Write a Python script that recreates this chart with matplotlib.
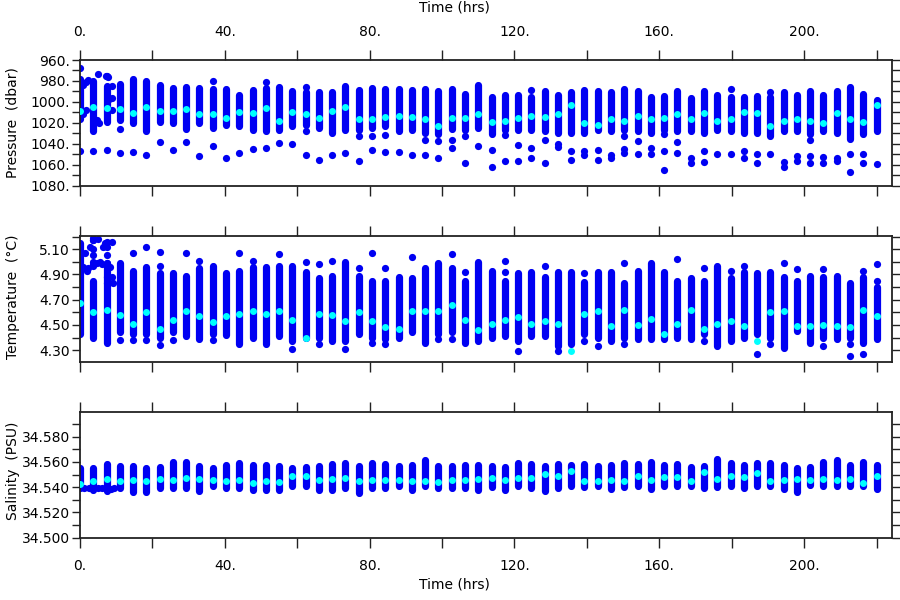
import numpy as np
import matplotlib
matplotlib.use("Agg")
import matplotlib.pyplot as plt

# time of each CTD cast (hrs)
times = [0.0, 3.67, 7.33, 11.0, 14.67, 18.33, 22.0, 25.67, 29.33, 33.0,
         36.67, 40.33, 44.0, 47.67, 51.33, 55.0, 58.67, 62.33, 66.0, 69.67,
         73.33, 77.0, 80.67, 84.33, 88.0, 91.67, 95.33, 99.0, 102.67, 106.33,
         110.0, 113.67, 117.33, 121.0, 124.67, 128.33, 132.0, 135.67, 139.33, 143.0,
         146.67, 150.33, 154.0, 157.67, 161.33, 165.0, 168.67, 172.33, 176.0, 179.67,
         183.33, 187.0, 190.67, 194.33, 198.0, 201.67, 205.33, 209.0, 212.67, 216.33,
         220.0]

# pressure (dbar): range of each cast, cast mean, isolated samples
pres_top = [978, 980, 985, 983, 978, 980, 984, 987, 986, 987,
            988, 988, 993, 989, 987, 986, 990, 991, 991, 991,
            985, 989, 987, 988, 988, 989, 988, 990, 988, 992,
            984, 995, 993, 993, 995, 990, 993, 991, 989, 990,
            991, 988, 990, 995, 994, 990, 996, 990, 993, 995,
            995, 994, 995, 991, 993, 990, 993, 990, 986, 992,
            998]
pres_bot = [1016, 1028, 1019, 1017, 1020, 1028, 1019, 1020, 1026, 1020,
            1025, 1022, 1023, 1027, 1028, 1027, 1023, 1022, 1025, 1030,
            1027, 1027, 1025, 1023, 1028, 1027, 1030, 1031, 1026, 1027,
            1025, 1031, 1027, 1027, 1027, 1028, 1030, 1030, 1030, 1027,
            1028, 1027, 1028, 1030, 1027, 1028, 1028, 1030, 1027, 1028,
            1030, 1030, 1033, 1028, 1028, 1031, 1028, 1030, 1035, 1031,
            1028]
pres_mean = [1009, 1005, 1006, 1007, 1011, 1005, 1009, 1009, 1007, 1012,
             1012, 1015, 1010, 1011, 1006, 1018, 1010, 1012, 1015, 1009,
             1005, 1016, 1016, 1014, 1013, 1014, 1016, 1023, 1015, 1015,
             1012, 1019, 1018, 1015, 1013, 1014, 1012, 1003, 1020, 1022,
             1016, 1018, 1013, 1016, 1015, 1012, 1016, 1011, 1018, 1016,
             1010, 1011, 1023, 1018, 1016, 1018, 1020, 1011, 1016, 1019,
             1003]
pres_out = [[968, 1047], [1047], [975, 1046], [1026, 1049], [1048],
            [1051], [1038], [1046], [1038], [1052],
            [980, 1042], [1054], [1049], [1045], [981, 1044],
            [1039], [1040], [986, 1028, 1051], [1055], [1051],
            [1049], [1033, 1056], [1033, 1046], [1032, 1048], [1048],
            [1051], [1036, 1051], [1037, 1054], [1036, 1044], [1033, 1058],
            [1042], [1046, 1062], [1032, 1056], [1041, 1056], [989, 1044, 1054],
            [1036, 1058], [1040, 1043], [1047, 1055], [1047, 1051], [1046, 1055],
            [1051, 1054], [1033, 1045, 1049], [1037, 1050], [1044, 1050], [1031, 1047, 1065],
            [1038, 1049], [1054, 1058], [1047, 1057], [1050], [988, 1050],
            [1047, 1054], [1050, 1058], [991, 1050], [1057, 1062], [1052, 1056],
            [1036, 1052, 1058], [1053, 1058], [1054, 1056], [1050, 1067], [1050, 1058],
            [1059]]
# first hours: instrument still settling
pres_early_t = [2.3, 5.06, 7.1, 7.7, 8.9, 0.92, 1.66, 4.6, 5.2, 7.7, 8.9, 8.9, 0.92, 1.7]
pres_early_p = [979, 973, 975, 976, 985, 1012, 1008, 1017, 1020, 998, 996, 1008, 984, 981]

# temperature (degC)
temp_top = [5.15, 4.85, 4.99, 4.99, 4.93, 4.96, 4.91, 4.91, 4.89, 4.95,
            4.97, 4.91, 4.93, 4.96, 4.96, 4.97, 4.97, 4.92, 4.87, 4.89,
            5.00, 4.89, 4.85, 4.85, 4.88, 4.87, 4.95, 4.99, 4.95, 4.85,
            5.00, 4.93, 4.85, 4.91, 4.92, 4.88, 4.92, 4.92, 4.84, 4.92,
            4.92, 4.83, 4.93, 4.99, 4.92, 4.85, 4.87, 4.85, 4.97, 4.87,
            4.92, 4.91, 4.92, 4.88, 4.85, 4.89, 4.88, 4.89, 4.83, 4.88,
            4.80]
temp_bot = [4.43, 4.40, 4.36, 4.44, 4.43, 4.43, 4.40, 4.44, 4.41, 4.39,
            4.43, 4.42, 4.35, 4.40, 4.35, 4.41, 4.37, 4.40, 4.40, 4.37,
            4.37, 4.43, 4.40, 4.39, 4.40, 4.44, 4.36, 4.43, 4.44, 4.36,
            4.37, 4.40, 4.41, 4.37, 4.41, 4.41, 4.33, 4.35, 4.43, 4.40,
            4.37, 4.40, 4.39, 4.39, 4.39, 4.40, 4.39, 4.43, 4.33, 4.37,
            4.40, 4.43, 4.40, 4.32, 4.45, 4.36, 4.40, 4.39, 4.40, 4.36,
            4.39]
temp_mean = [4.67, 4.60, 4.62, 4.58, 4.51, 4.60, 4.47, 4.54, 4.61, 4.57,
             4.52, 4.57, 4.59, 4.61, 4.59, 4.61, 4.54, 4.40, 4.59, 4.58,
             4.53, 4.60, 4.53, 4.48, 4.47, 4.61, 4.61, 4.61, 4.66, 4.54,
             4.46, 4.51, 4.54, 4.56, 4.51, 4.53, 4.51, 4.29, 4.59, 4.61,
             4.49, 4.62, 4.50, 4.55, 4.43, 4.51, 4.62, 4.47, 4.51, 4.53,
             4.49, 4.37, 4.60, 4.61, 4.49, 4.49, 4.50, 4.49, 4.48, 4.62,
             4.57]
temp_out = [[], [5.19, 5.175, 5.10, 5.05, 5.00, 4.98], [5.16, 5.12, 5.05, 4.88, 4.83], [4.38], [5.07, 4.38],
            [5.12, 4.38], [5.08, 4.97, 4.34], [4.38], [5.07], [5.01],
            [4.38], [], [5.07], [5.01], [],
            [5.06], [4.31], [5.00], [4.98, 4.35], [5.01],
            [4.31], [4.95], [5.07, 4.36], [4.95, 4.35], [],
            [5.04], [], [4.39], [5.06, 4.39], [4.92],
            [], [], [5.01, 4.92], [4.29], [],
            [4.97], [4.29], [], [4.91, 4.37], [4.33],
            [], [4.99, 4.35], [], [], [],
            [5.02], [], [4.95, 4.37], [], [4.93],
            [4.97], [4.27], [4.35], [4.99], [4.94],
            [], [4.94, 4.33], [], [4.35, 4.25], [4.93, 4.27],
            [4.98, 4.85]]
temp_early_t = [1.38, 2.76, 3.68, 5.06, 6.44, 7.0, 8.75, 0.92, 1.84, 3.68,
                5.52, 7.36, 8.29, 8.75, 9.2, 2.3, 4.6, 6.2]
temp_early_v = [5.07, 5.12, 5.175, 5.18, 5.12, 5.15, 5.16, 4.96, 4.93, 4.97,
                5.00, 4.99, 4.96, 4.88, 4.83, 4.95, 4.99, 4.98]

# salinity (PSU)
sal_top = [34.5553, 34.5553, 34.5580, 34.5566, 34.5566, 34.5553, 34.5561, 34.5601, 34.5601, 34.5566,
           34.5553, 34.5572, 34.5588, 34.5572, 34.5572, 34.5566, 34.5553, 34.5559, 34.5566, 34.5580,
           34.5588, 34.5566, 34.5588, 34.5580, 34.5566, 34.5572, 34.5612, 34.5566, 34.5566, 34.5572,
           34.5574, 34.5566, 34.5559, 34.5593, 34.5585, 34.5566, 34.5580, 34.5572, 34.5580, 34.5566,
           34.5572, 34.5593, 34.5585, 34.5601, 34.5572, 34.5580, 34.5561, 34.5566, 34.5620, 34.5588,
           34.5574, 34.5588, 34.5588, 34.5572, 34.5553, 34.5561, 34.5601, 34.5612, 34.5574, 34.5601,
           34.5572]
sal_bot = [34.5407, 34.5380, 34.5367, 34.5394, 34.5362, 34.5362, 34.5394, 34.5394, 34.5394, 34.5372,
           34.5407, 34.5394, 34.5394, 34.5380, 34.5380, 34.5380, 34.5407, 34.5407, 34.5380, 34.5380,
           34.5394, 34.5354, 34.5394, 34.5394, 34.5412, 34.5380, 34.5407, 34.5394, 34.5394, 34.5394,
           34.5380, 34.5399, 34.5380, 34.5407, 34.5394, 34.5367, 34.5394, 34.5407, 34.5399, 34.5407,
           34.5388, 34.5399, 34.5407, 34.5388, 34.5407, 34.5407, 34.5407, 34.5394, 34.5399, 34.5407,
           34.5394, 34.5407, 34.5407, 34.5388, 34.5362, 34.5420, 34.5407, 34.5407, 34.5407, 34.5407,
           34.5388]
sal_mean = [34.5426, 34.5452, 34.5468, 34.5452, 34.5455, 34.5447, 34.5468, 34.5460, 34.5473, 34.5465,
            34.5460, 34.5447, 34.5460, 34.5434, 34.5452, 34.5441, 34.5492, 34.5487, 34.5460, 34.5468,
            34.5473, 34.5452, 34.5460, 34.5460, 34.5455, 34.5447, 34.5452, 34.5439, 34.5460, 34.5460,
            34.5468, 34.5473, 34.5460, 34.5473, 34.5473, 34.5505, 34.5487, 34.5532, 34.5452, 34.5447,
            34.5460, 34.5447, 34.5492, 34.5460, 34.5479, 34.5479, 34.5447, 34.5521, 34.5468, 34.5487,
            34.5481, 34.5513, 34.5447, 34.5455, 34.5468, 34.5460, 34.5468, 34.5460, 34.5465, 34.5434,
            34.5487]
sal_early_t = [0.0, 1.2, 2.4, 3.7, 4.9, 6.1, 7.3, 8.0, 8.5, 9.3]
sal_early_s = [34.5395, 34.5392, 34.5392, 34.5392, 34.5392, 34.5392, 34.5390, 34.5382, 34.5388, 34.5395]

BLUE = "#0000f2"
CYAN = "#00ffff"

fig = plt.figure(figsize=(9, 6), dpi=100)
ax_p = fig.add_axes([0.0889, 0.6905, 0.9019, 0.2095])
ax_t = fig.add_axes([0.0889, 0.3962, 0.9019, 0.2110])
ax_s = fig.add_axes([0.0889, 0.1038, 0.9019, 0.2090])


def draw_panel(ax, top, bot, mean, outs, early_t, early_v):
    ax.vlines(times, bot, top, colors=BLUE, linewidth=5.2, capstyle="round", zorder=2)
    ox, oy = [], []
    for t, vals in zip(times, outs):
        for v in vals:
            ox.append(t)
            oy.append(v)
    ax.plot(ox, oy, "o", color=BLUE, ms=5.2, mew=0, zorder=2)
    ax.plot(early_t, early_v, "o", color=BLUE, ms=5.2, mew=0, zorder=2)
    ax.plot(times, mean, "o", color=CYAN, ms=5.0, mew=0, zorder=3)


draw_panel(ax_p, pres_top, pres_bot, pres_mean, pres_out, pres_early_t, pres_early_p)
draw_panel(ax_t, temp_top, temp_bot, temp_mean, temp_out, temp_early_t, temp_early_v)
draw_panel(ax_s, sal_top, sal_bot, sal_mean, [[] for t in times], sal_early_t, sal_early_s)

ax_p.set_ylim(1080, 960)
ax_t.set_ylim(4.204, 5.207)
ax_s.set_ylim(34.500, 34.5993)

yticks = [
    (ax_p, np.arange(960, 1081, 10), lambda v: "%d." % round(v)),
    (ax_t, np.arange(4.3, 5.21, 0.1), lambda v: "%.2f" % v),
    (ax_s, np.arange(34.50, 34.591, 0.01), lambda v: "%.3f" % v),
]
for ax, ticks, fmt in yticks:
    ax.set_yticks(ticks)
    ax.set_yticklabels([fmt(v) if i % 2 == 0 else "" for i, v in enumerate(ticks)])

xt = np.arange(0, 221, 20)
for ax in (ax_p, ax_t, ax_s):
    ax.set_xlim(0, 224.2)
    ax.set_xticks(xt)
    ax.set_xticklabels(["%d." % v if v % 40 == 0 else "" for v in xt])
    ax.xaxis.set_ticks_position("both")
    ax.yaxis.set_ticks_position("both")
    ax.tick_params(axis="x", direction="out", length=7.2, width=1.0, color="#222222",
                   labelsize=10, pad=8, labelbottom=False, labeltop=False)
    ax.tick_params(axis="y", direction="out", length=5.8, width=1.0, color="#222222",
                   labelsize=10, pad=1.5, labelright=False)
    for sp in ax.spines.values():
        sp.set_linewidth(1.3)
        sp.set_color("#222222")

ax_p.tick_params(axis="x", labeltop=True)
ax_s.tick_params(axis="x", labelbottom=True)

fig.text(0.505, 0.987, "Time (hrs)", ha="center", va="center", fontsize=10)
fig.text(0.505, 0.025, "Time (hrs)", ha="center", va="center", fontsize=10)
fig.text(0.014, 0.795, "Pressure  (dbar)", ha="center", va="center", rotation=90, fontsize=10)
fig.text(0.014, 0.505, "Temperature  (\u00b0C)", ha="center", va="center", rotation=90, fontsize=10)
fig.text(0.014, 0.215, "Salinity  (PSU)", ha="center", va="center", rotation=90, fontsize=10)

plt.savefig("out.png", dpi=100)
